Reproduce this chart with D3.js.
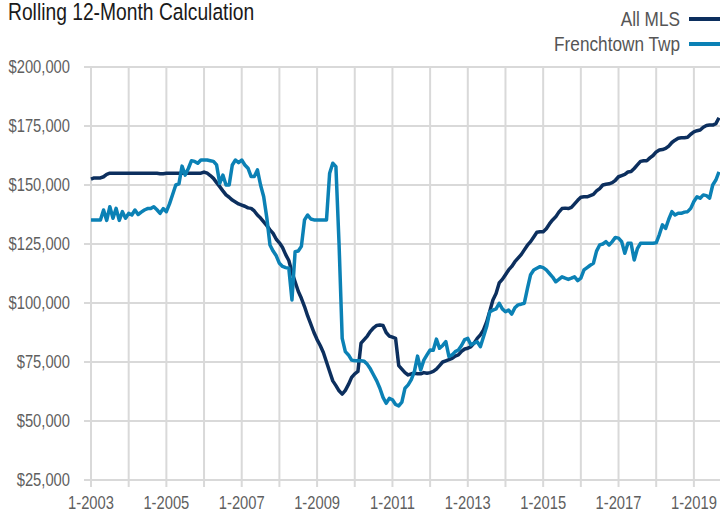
<!DOCTYPE html>
<html>
<head>
<meta charset="utf-8">
<script src="https://cdn.jsdelivr.net/npm/d3@7"></script>
<style>
  body { margin: 0; background: #fff; }
  svg { display: block; }
  text { font-family: "Liberation Sans", Arial, sans-serif; }
</style>
</head>
<body>
<script>
'use strict';

// months run from 1-2003 to 9-2019
var startYear = 2003;
var seriesNames = ['All MLS', 'Frenchtown Twp'];
var seriesColors = ['#0c2f5e', '#0b81b5'];

// rolling 12-month median price (thousands of dollars)
var allMls = [
  152.5, 153, 153, 153, 153.5, 154.5, 155, 155, 155, 155, 155, 155,
  155, 155, 155, 155, 155, 155, 155, 155, 155, 155, 154.8, 154.8,
  155, 155, 155, 155, 155, 155, 155, 155, 155, 155, 155, 155,
  155.5, 155, 154, 152.8, 151, 149.3, 147.5, 145.8, 144.8, 143.6, 142.8, 142,
  141.5, 141, 140.3, 140.1, 139, 137.3, 136, 134.4, 132.8, 131, 129.5, 127,
  125.5, 123.5, 120.5, 118, 113, 109, 105, 102, 98.5, 94.5, 91, 87.5,
  84.5, 82, 79, 75, 71, 67, 65, 62.8, 61.4, 63, 65.5, 68.5,
  70, 71, 83, 84.5, 86, 88, 89.5, 90.5, 90.7, 90.5, 87.5, 86,
  85.5, 85, 73.5, 72, 70.5, 69.5, 70, 70.2, 70, 70, 70.5, 70.2,
  70.5, 71, 72, 73.5, 75, 75.5, 76, 76.5, 77.5, 78, 79.5, 80.5,
  80.8, 81.5, 83, 85, 86.5, 88.6, 92, 96.5, 101.3, 104, 108.5, 110,
  112, 114, 115.5, 117.5, 119, 120.5, 122.5, 124.5, 126, 128, 130, 130.2,
  130.2, 131.5, 133.5, 135.2, 136.5, 138.5, 140, 140.2, 140, 140.5, 142, 143.5,
  144.8, 145, 145, 145.5, 146, 147.5, 148.5, 150, 150.3, 150.5, 151, 152,
  153.5, 154, 154.5, 155.5, 155.7, 157, 158.5, 160, 160.3, 160.3, 161.5, 162.5,
  164, 164.8, 165, 165.5, 166.5, 168, 169, 169.8, 170, 170, 170.2, 171.5,
  172.5, 173, 173.3, 174.5, 175.2, 175.4, 175.4, 176, 178.5
];

var frenchtown = [
  135.2, 135.2, 135.2, 135.2, 139.4, 135, 140.8, 135.9, 140.1, 135, 138.7, 135.9,
  138, 137.3, 139.4, 137.5, 138.5, 139.4, 140, 140, 140.8, 139.5, 138, 140,
  138.7, 142, 146, 150, 150.5, 158, 154.2, 157, 160.3, 160, 159.2, 160.6,
  160.6, 160.6, 160.3, 160, 158.5, 150.7, 154.2, 150, 150, 158.5, 160.6, 159.5,
  160.6, 158.5, 157.1, 153.6, 153.6, 156.4, 150, 145, 136, 124.6, 122, 120,
  116.8, 115.5, 115, 114.7, 101.3, 121.7, 122, 124, 135.2, 137.3, 135.6, 135.2,
  135.2, 135.2, 135.2, 135.2, 155, 159.2, 157.8, 125, 85, 79.4, 78, 75.8,
  75.5, 75.5, 75.5, 75.3, 74, 72, 69.5, 67, 63.9, 60, 57.5, 59.6,
  59, 57, 56.4, 58, 63.9, 65.3, 67.5, 71, 77.5, 71.6, 75.8, 78,
  80.1, 80, 84.7, 80.8, 82, 83.6, 77.3, 78, 79.4, 80.1, 82, 84.5,
  85, 82.2, 83, 83.6, 81.5, 85.7, 90, 96.3, 97, 97.5, 99.9, 97.5,
  96.3, 97, 95.3, 98, 99.2, 99.5, 99.9, 106.2, 112, 114, 114.7, 115.4,
  115, 114, 112.5, 111, 109, 110, 111.1, 110.5, 110, 110.5, 111.1, 109.5,
  110.5, 114, 115, 116, 116.8, 122, 124.6, 125, 126, 124.6, 126, 127.8,
  127.5, 126, 121.1, 125.3, 125.3, 118.2, 123, 125.3, 125.3, 125.3, 125.3, 125.3,
  125.5, 129, 133.1, 131.6, 135.5, 138.7, 137.3, 138, 138, 138.5, 138.7, 140.1,
  143, 145, 144.4, 145.8, 145.5, 144.4, 150, 152.1, 155.6
];

var yTicks = [25000, 50000, 75000, 100000, 125000, 150000, 175000, 200000];
var xGridYears = d3.range(2003, 2020);
var xLabelYears = [2003, 2005, 2007, 2009, 2011, 2013, 2015, 2017, 2019];

var width = 720;
var height = 515;
var margin = {top: 67, right: 1, bottom: 35, left: 91};
var squeeze = 0.82; // narrow face is missing, so squeeze the regular one

document.addEventListener('DOMContentLoaded', function() {
    drawChart();
});

// put a horizontally squeezed text at (tx, ty)
function narrowText(sel, tx, ty) {
    return sel.append('g')
        .attr('transform', 'translate(' + tx + ',' + ty + ') scale(' + squeeze + ',1)')
        .append('text');
}

function drawChart() {
    var svg = d3.select('body').append('svg')
        .attr('width', width)
        .attr('height', height);

    // x: month index from 1-2003, y: dollars
    var x = d3.scaleLinear()
        .domain([0, allMls.length - 1])
        .range([margin.left, width - margin.right]);

    var y = d3.scaleLinear()
        .domain([25000, 200000])
        .range([height - margin.bottom, margin.top]);

    // horizontal gridlines
    svg.append('g').selectAll('line')
        .data(yTicks)
        .enter().append('line')
        .attr('x1', margin.left - 7)
        .attr('x2', width)
        .attr('y1', function(d) { return y(d); })
        .attr('y2', function(d) { return y(d); })
        .attr('stroke', '#d9d9d9')
        .attr('stroke-width', 2);

    // vertical gridlines every january
    svg.append('g').selectAll('line')
        .data(xGridYears)
        .enter().append('line')
        .attr('x1', function(d) { return x((d - startYear) * 12); })
        .attr('x2', function(d) { return x((d - startYear) * 12); })
        .attr('y1', margin.top)
        .attr('y2', height - margin.bottom + 7)
        .attr('stroke', '#d9d9d9')
        .attr('stroke-width', 2);

    // y labels
    yTicks.forEach(function(d) {
        narrowText(svg, 70, y(d))
            .attr('dy', '0.35em')
            .attr('text-anchor', 'end')
            .attr('fill', '#5f5f5f')
            .style('font-size', '18px')
            .text('$' + d3.format(',')(d));
    });

    // x labels
    xLabelYears.forEach(function(d) {
        narrowText(svg, x((d - startYear) * 12), 509)
            .attr('text-anchor', 'middle')
            .attr('fill', '#5f5f5f')
            .style('font-size', '18px')
            .text('1-' + d);
    });

    // lines
    var line = d3.line()
        .x(function(d, i) { return x(i); })
        .y(function(d) { return y(d * 1000); });

    [allMls, frenchtown].forEach(function(series, i) {
        svg.append('path')
            .datum(series)
            .attr('fill', 'none')
            .attr('stroke', seriesColors[i])
            .attr('stroke-width', 3.5)
            .attr('stroke-linejoin', 'round')
            .attr('d', line);
    });

    // title
    narrowText(svg, 8, 20)
        .attr('fill', '#1a1a1a')
        .style('font-size', '23.5px')
        .text('Rolling 12-Month Calculation');

    // legend
    seriesNames.forEach(function(name, i) {
        var ly = 19 + i * 25;
        narrowText(svg, 680, ly)
            .attr('dy', '0.35em')
            .attr('text-anchor', 'end')
            .attr('fill', '#555')
            .style('font-size', '21px')
            .text(name);

        svg.append('line')
            .attr('x1', 689)
            .attr('x2', 720)
            .attr('y1', ly)
            .attr('y2', ly)
            .attr('stroke', seriesColors[i])
            .attr('stroke-width', 4);
    });
}
</script>
</body>
</html>
